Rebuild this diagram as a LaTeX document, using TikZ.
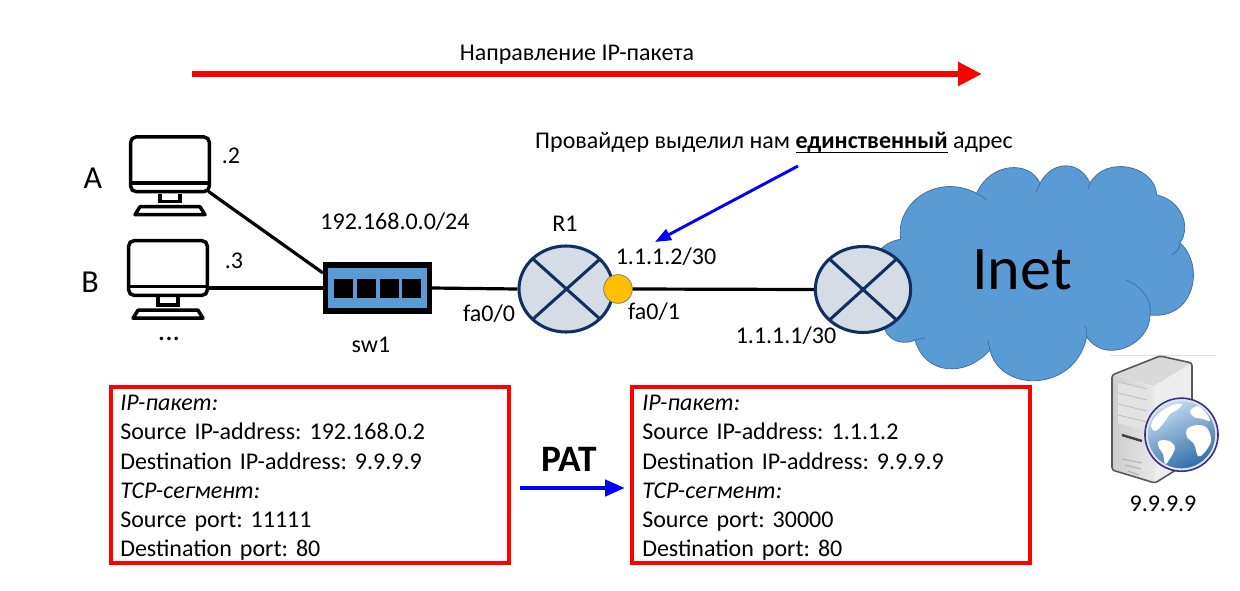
\documentclass[tikz,border=0pt]{standalone}
\usepackage{fontspec}
\setmainfont{Carlito}
\usetikzlibrary{arrows.meta,calc,shapes.geometric}
\definecolor{routerfill}{HTML}{D6DCE5}
\definecolor{routerline}{HTML}{12305F}
\definecolor{cloudblue}{HTML}{5B9BD5}
\definecolor{cloudline}{HTML}{41719C}
\definecolor{portorange}{HTML}{FFC000}
\definecolor{globedark}{HTML}{2F6EAA}
\frenchspacing
\newcommand{\ulbold}[1]{\sbox0{\textbf{#1}}\rlap{\rule[-3.3pt]{\wd0}{1.4pt}}\box0\relax}
\tikzset{
  x=0.75pt,y=-0.75pt,
  lbl/.style={font=\fontsize{18}{21}\selectfont,inner sep=0pt,text=black},
  host/.style={font=\fontsize{24}{28}\selectfont,inner sep=0pt},
  wire/.style={line width=2.4pt,black},
  routernode/.style={ellipse,draw=routerline,fill=routerfill,line width=2.3pt,minimum width=70.5pt,minimum height=64.5pt,inner sep=0pt},
  routercross/.style={draw=routerline,line width=2.3pt},
  monitor/.style={draw=black,line width=2.6pt,fill=white,rounded corners=4pt,minimum width=59pt,minimum height=41pt,inner sep=0pt},
  pktbox/.style={draw=red,line width=3pt,fill=white,minimum width=298pt,minimum height=132pt,inner sep=0pt},
  pkttext/.style={font=\fontsize{18}{21.9}\selectfont,align=left,inner sep=0pt,anchor=north west,text width=290pt},
  bluethin/.style={draw=blue,line width=2.2pt,-{Triangle[length=12pt,width=9pt]}},
  bluethick/.style={draw=blue,line width=3.4pt,-{Triangle[length=15pt,width=12pt]}},
}
\newcommand{\screenparts}[2]{%
  \draw[line width=2.6pt] (#1-40,#2+47.5) -- (#1+41,#2+47.5);
  \draw[line width=2.6pt] (#1-10,#2+58) -- (#1-10,#2+66) -- (#1+10,#2+66) -- (#1+10,#2+58);
  \draw[line width=2.6pt,line join=round] (#1-35,#2+79) -- (#1-30,#2+71) -- (#1+30,#2+71) -- (#1+35,#2+79) -- cycle;
}
\begin{document}
\begin{tikzpicture}
\useasboundingbox (0,0) rectangle (1240,590);
\fill[white] (0,0) rectangle (1240,590);

% direction arrow
\coordinate (dirA) at (192,74);
\coordinate (dirB) at (982,74);
\draw[red,line width=4.6pt,-{Triangle[length=18pt,width=17pt]}] (dirA) -- (dirB);
\node[lbl] (dirT) at (577,55) {Направление IP-пакета};

% cloud
\draw[fill=cloudblue,draw=cloudline,line width=0.6pt]
 (900.7,239.3)
 .. controls (895,205) and (935,172) .. (976.7,193.3)
 .. controls (990,162) and (1030,160) .. (1040,183.3)
 .. controls (1052,160) and (1080,160) .. (1090,183.3)
 .. controls (1105,155) and (1155,165) .. (1156.7,195)
 .. controls (1180,200) and (1192,225) .. (1180,243)
 .. controls (1205,265) and (1195,320) .. (1150,315)
 .. controls (1150,345) and (1105,365) .. (1086.7,336.7)
 .. controls (1075,393) and (1000,393) .. (990,350)
 .. controls (965,378) and (925,375) .. (915,340)
 .. controls (905,345) and (890,342) .. (885,330)
 .. controls (860,310) and (860,245) .. (900.7,239.3);
\draw[cloudline,line width=0.6pt]
 (976.7,193.3) .. controls (980,195) and (985,198) .. (986,200)
 (1040,183.3) .. controls (1038,188) and (1037,190) .. (1036,192)
 (1090,183.3) .. controls (1089,186) and (1088,188) .. (1088,189)
 (1180,243) .. controls (1180,250) and (1175,252) .. (1172,255)
 (1126,280) .. controls (1140,285) and (1153,300) .. (1150,315)
 (1086.7,336.7) .. controls (1087,333) and (1087,330) .. (1085,326)
 (990,350) .. controls (989,345) and (988,342) .. (988,340)
 (915,340) .. controls (920,339) and (923,338) .. (925,338);
\node[inner sep=0pt,font=\fontsize{46.5}{50}\selectfont] (inet) at (1022,270) {Inet};

% devices
\node[monitor] (a) at (170,164.3) {};
\node[monitor] (b) at (168,268) {};
\screenparts{170}{135.7}
\screenparts{168}{239.2}
\node[rectangle,draw=black,fill=cloudblue,line width=4pt,minimum width=78pt,minimum height=34.5pt,inner sep=0pt] (sw) at (377.3,288) {};
\foreach \px in {343.5,366.5,389.5,411.5}
  \fill[black] (\px-9.5,279) rectangle (\px+9.5,298);
\node[routernode] (r1) at (566,289) {};
\node[routernode,minimum width=71.5pt] (r2) at (863,289.5) {};
\draw[routercross] (533,259) -- (600,319) (533,319) -- (600,259);
\draw[routercross] (830,259.5) -- (896,319.5) (830,319.5) -- (896,259.5);
\node[circle,draw=gray,fill=portorange,line width=0.6pt,minimum size=21.5pt,inner sep=0pt] (port) at (618,289) {};
\coordinate (swA) at (323,273);
\draw[wire,shorten <=-2.5pt] (a.south east) -- (swA);
\draw[wire] (b.east |- sw.west) -- (sw.west);
\draw[wire] (sw.east) -- (r1.west);
\draw[wire] (port.east) -- (r2.west);

% labels
\node[host] (lA) at (93,178) {A};
\node[host] (lB) at (90,282) {B};
\node[lbl] (l2) at (231,156) {.2};
\node[lbl] (l3) at (234,261) {.3};
\node[lbl,font=\fontsize{22}{24}\selectfont] (ld) at (169,339) {...};
\node[lbl] (net) at (395,222) {192.168.0.0/24};
\node[lbl] (lsw) at (371,345) {sw1};
\node[lbl] (lr1) at (565,224) {R1};
\node[lbl] (ip2) at (666,257) {1.1.1.2/30};
\node[lbl] (f0) at (489,314) {fa0/0};
\node[lbl] (f1) at (654,312) {fa0/1};
\node[lbl] (ip1) at (786,336) {1.1.1.1/30};
\node[lbl] (prov) at (774,143) {Провайдер выделил нам \ulbold{единственный} адрес};
\coordinate (bS) at (798,166);
\coordinate (bE) at (655,242);
\draw[bluethin] (bS) -- (bE);

% boxes
\node[pktbox] (box1) at (310,475) {};
\node[pktbox] (box2) at (831,475) {};
\node[pkttext] at (120,395) {\textit{IP-пакет:}\\Source IP-address: 192.168.0.2\\Destination IP-address: 9.9.9.9\\\textit{TCP-сегмент:}\\Source port: 11111\\Destination port: 80};
\node[pkttext] at (642,395) {\textit{IP-пакет:}\\Source IP-address: 1.1.1.2\\Destination IP-address: 9.9.9.9\\\textit{TCP-сегмент:}\\Source port: 30000\\Destination port: 80};
\node[font=\fontsize{28}{32}\bfseries\selectfont,inner sep=0pt] (pat) at (569,459) {PAT};
\coordinate (pS) at (520,488);
\coordinate (pE) at (625,488);
\draw[bluethick] (pS) -- (pE);

% server
\draw[gray!25,line width=0.5pt] (1110,355.5) -- (1216,355.5);
\node[lbl] (srv) at (1163,504) {9.9.9.9};
\fill[gray!30] (1112,375) -- (1160,356) -- (1192,363) -- (1154,386) -- cycle;
\shade[left color=gray!40,right color=gray!18] (1112,375) -- (1154,386) -- (1155,483) -- (1112,470) -- cycle;
\fill[gray!14] (1154,386) -- (1192,363) -- (1192,460) -- (1155,483) -- cycle;
\fill[gray!22] (1118,382) -- (1147,389) -- (1147,431) -- (1118,423) -- cycle;
\foreach \yy in {0,11,22,33}
  \draw[gray!50,line width=0.6pt] (1118,382+\yy) -- (1147,389+\yy);
\draw[black!75,line width=1.8pt] (1122,435) -- (1142,441);
\foreach \yy/\xa/\xb in {0/1122/1142,6/1125/1141,12/1128/1139}
  \draw[gray!60,line width=0.8pt] (\xa,459+\yy) -- (\xb,463+\yy);
\draw[black!65,line width=1.2pt,rounded corners=2pt,line join=round] (1112,375) -- (1160,356) -- (1192,363) -- (1192,460) -- (1155,483) -- (1112,470) -- cycle;
% globe
\fill[blue!8!gray!20,draw=blue!40!black!80,line width=1.2pt] (1181.5,434.7) circle (27.4pt);
\shade[top color=cloudblue!35,bottom color=globedark,shading angle=25] (1181.5,434.7) circle (25.2pt);
\fill[white] plot[smooth cycle,tension=0.6] coordinates {(1151,426) (1156,416) (1170,406) (1182,404) (1177,410) (1170,414) (1163,424) (1155,431)};
\fill[white] plot[smooth cycle,tension=0.6] coordinates {(1159,441) (1169,441) (1175,448) (1169,460) (1165,464) (1163,454) (1159,448)};
\fill[white] plot[smooth cycle,tension=0.6] coordinates {(1187,429) (1197,425) (1207,428) (1211,441) (1204,453) (1198,456) (1194,444) (1187,437)};
\fill[white] plot[smooth cycle,tension=0.6] coordinates {(1190,411) (1198,406) (1206,413) (1210,421) (1203,419) (1194,417)};
\end{tikzpicture}
\end{document}
